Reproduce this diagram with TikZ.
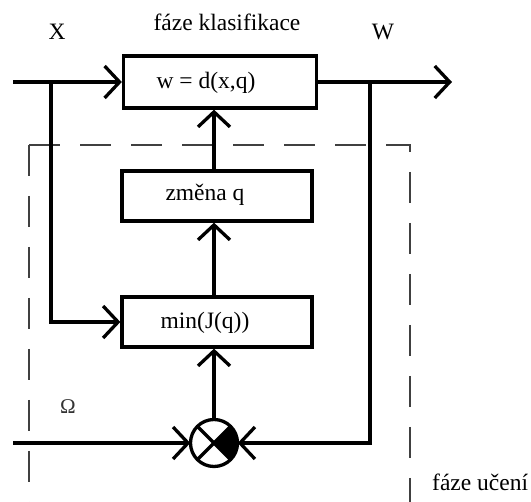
\documentclass[tikz,border=0pt]{standalone}
\usepackage{fontspec}
\setmainfont{Liberation Serif}
\usetikzlibrary{arrows.meta,calc}
\begin{document}
\begin{tikzpicture}[x=1pt,y=-1pt,
  thickline/.style={line width=3.3pt},
  box/.style={draw,line width=3.3pt,minimum width=190pt,minimum height=50pt,inner sep=0pt},
  lbl/.style={font=\fontsize{23.5}{28}\selectfont,inner sep=0pt},
  arr/.style={thickline,-{Straight Barb[length=15pt,width=32pt,line join=miter]}},
  dashbox/.style={line width=1.2pt,black!75,dash pattern=on 31pt off 20pt}]
\useasboundingbox (0,0) rectangle (531,502);
% dashed learning region
\draw[dashbox] (29,145) -- (29,502);
\draw[dashbox] (29,145) -- (410,145) -- (410,502);
% boxes
\node[box,minimum width=193pt,minimum height=52pt] (dec) at (220,82) {};
\node[box] (chg) at (217,196) {};
\node[box] (mn) at (217,322) {};
\node[lbl] (tdec) at (206,83) {w = d(x,q)};
\node[lbl] (tchg) at (205,195) {změna q};
\node[lbl] (tmn) at (205,323) {min(J(q))};
% comparator
\node[circle,minimum size=47pt,inner sep=0pt] (sum) at (214,443) {};
\begin{scope}
\clip (sum.center) -- ++(40,-40) -- ++(0,80) -- cycle;
\fill (sum.center) circle[radius=23.5pt];
\end{scope}
\draw[thickline] (sum.45) -- (sum.225);
\draw[thickline] (sum.135) -- (sum.315);
\draw[thickline] (sum.center) circle[radius=23.5pt];
% coordinates
\coordinate (xin) at (13,82);
\coordinate (xbr) at (51,82);
\coordinate (xbend) at (51,322);
\coordinate (wout) at (452,82);
\coordinate (wbr) at (370,82);
\coordinate (wbend) at (370,443);
\coordinate (oin) at (13,443);
% connectors
\draw[arr] (xin) -- (dec.west);
\draw[arr] (xbr) -- (xbend) -- (mn.west |- xbend);
\draw[arr] (dec.east) -- (wout);
\draw[arr] (wbr) -- (wbend) -- (sum.east);
\draw[arr] (oin) -- (sum.west);
\draw[arr] (sum.north) -- (sum.north |- mn.south);
\draw[arr] (sum.north |- mn.north) -- (sum.north |- chg.south);
\draw[arr] (sum.north |- chg.north) -- (sum.north |- dec.south);
% labels
\node[lbl] (lx) at (57,32) {X};
\node[lbl] (lw) at (383,32) {W};
\node[lbl] (lk) at (227,22) {fáze klasifikace};
\node[lbl,anchor=west] (lu) at (432,482) {fáze učení};
\node[font=\fontsize{21}{24}\selectfont,inner sep=0pt,black!80] (lo) at (68,407) {Ω};
\end{tikzpicture}
\end{document}
